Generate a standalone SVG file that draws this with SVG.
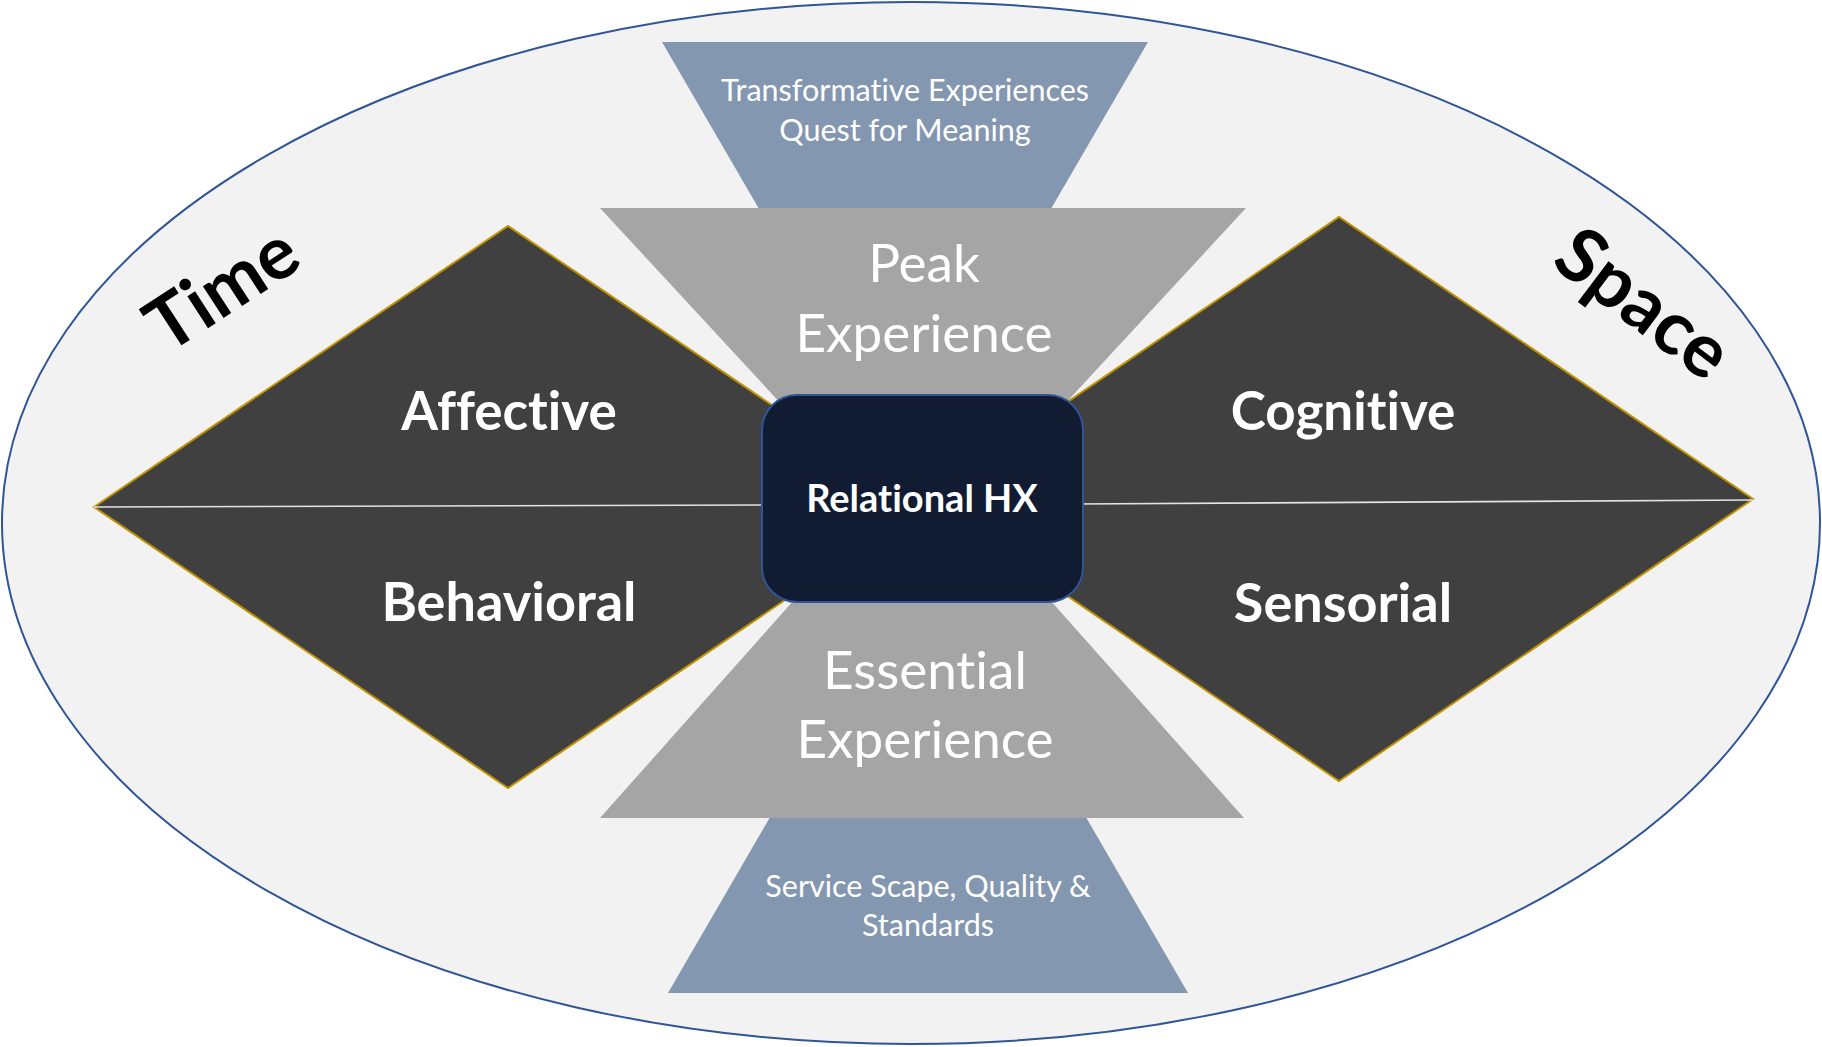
<svg xmlns="http://www.w3.org/2000/svg" width="1822" height="1047" viewBox="0 0 1822 1047">
<defs>
<style>
.t{font-family:Lato,"Open Sans","Liberation Sans",sans-serif;fill:#fff;text-anchor:middle;font-variant-ligatures:none;font-feature-settings:"liga" 0}
.b{font-weight:bold}
.k{fill:#000}
.blue{fill:#8497b0}
.gray{fill:#a5a5a5}
.dia{fill:#404040;stroke:#bf9000;stroke-width:2;stroke-linejoin:miter}
.mid{stroke:#e3e3e3;stroke-width:1.6}
</style>
</defs>
<rect width="1822" height="1047" fill="#fff"/>
<g id="outer">
<ellipse cx="911" cy="523" rx="909" ry="521" fill="#f2f2f2" stroke="#2f5597" stroke-width="2"/>
<text class="t b k" x="0" y="0" font-size="74" transform="translate(236,310) rotate(-33)">Time</text>
<text class="t b k" x="0" y="0" font-size="75" transform="translate(1628,324) rotate(37)">Space</text>
</g>
<g id="transformative">
<polygon class="blue" points="662,42 1148,42 998,300 812,300"/>
<text class="t" font-size="30.5" x="905" y="101">Transformative Experiences</text>
<text class="t" font-size="30.5" x="905" y="141">Quest for Meaning</text>
</g>
<g id="service">
<polygon class="blue" points="780,800 1076,800 1188,993 668,993"/>
<text class="t" font-size="30.5" x="928" y="897">Service Scape, Quality &amp;</text>
<text class="t" font-size="30.5" x="928" y="936">Standards</text>
</g>
<g id="peak">
<polygon class="gray" points="600,208 1246,208 976,500 870,500"/>
<text class="t" font-size="53" x="924" y="282">Peak</text>
<text class="t" font-size="53" x="924" y="352">Experience</text>
</g>
<g id="essential">
<polygon class="gray" points="883,500 961,500 1244,818 600,818"/>
<text class="t" font-size="53" x="925" y="689">Essential</text>
<text class="t" font-size="53" x="925" y="758">Experience</text>
</g>
<g id="time-diamond">
<polygon class="dia" points="94,507 508,226 922,507 508,788"/>
<line class="mid" x1="94" y1="507" x2="770" y2="505"/>
<text class="t b" font-size="53" x="509" y="430">Affective</text>
<text class="t b" font-size="54" x="509" y="621">Behavioral</text>
</g>
<g id="space-diamond">
<polygon class="dia" points="925,499 1339,217 1753,499 1339,781"/>
<line class="mid" x1="1075" y1="504" x2="1753" y2="500"/>
<text class="t b" font-size="53" x="1343" y="430">Cognitive</text>
<text class="t b" font-size="54" x="1343" y="622">Sensorial</text>
</g>
<g id="connectors"></g>
<g id="relational">
<rect x="762" y="395" width="321" height="207" rx="35" fill="#111c33" stroke="#2f5597" stroke-width="2"/>
<text class="t b" font-size="38" x="922" y="512">Relational HX</text>
</g>
</svg>
